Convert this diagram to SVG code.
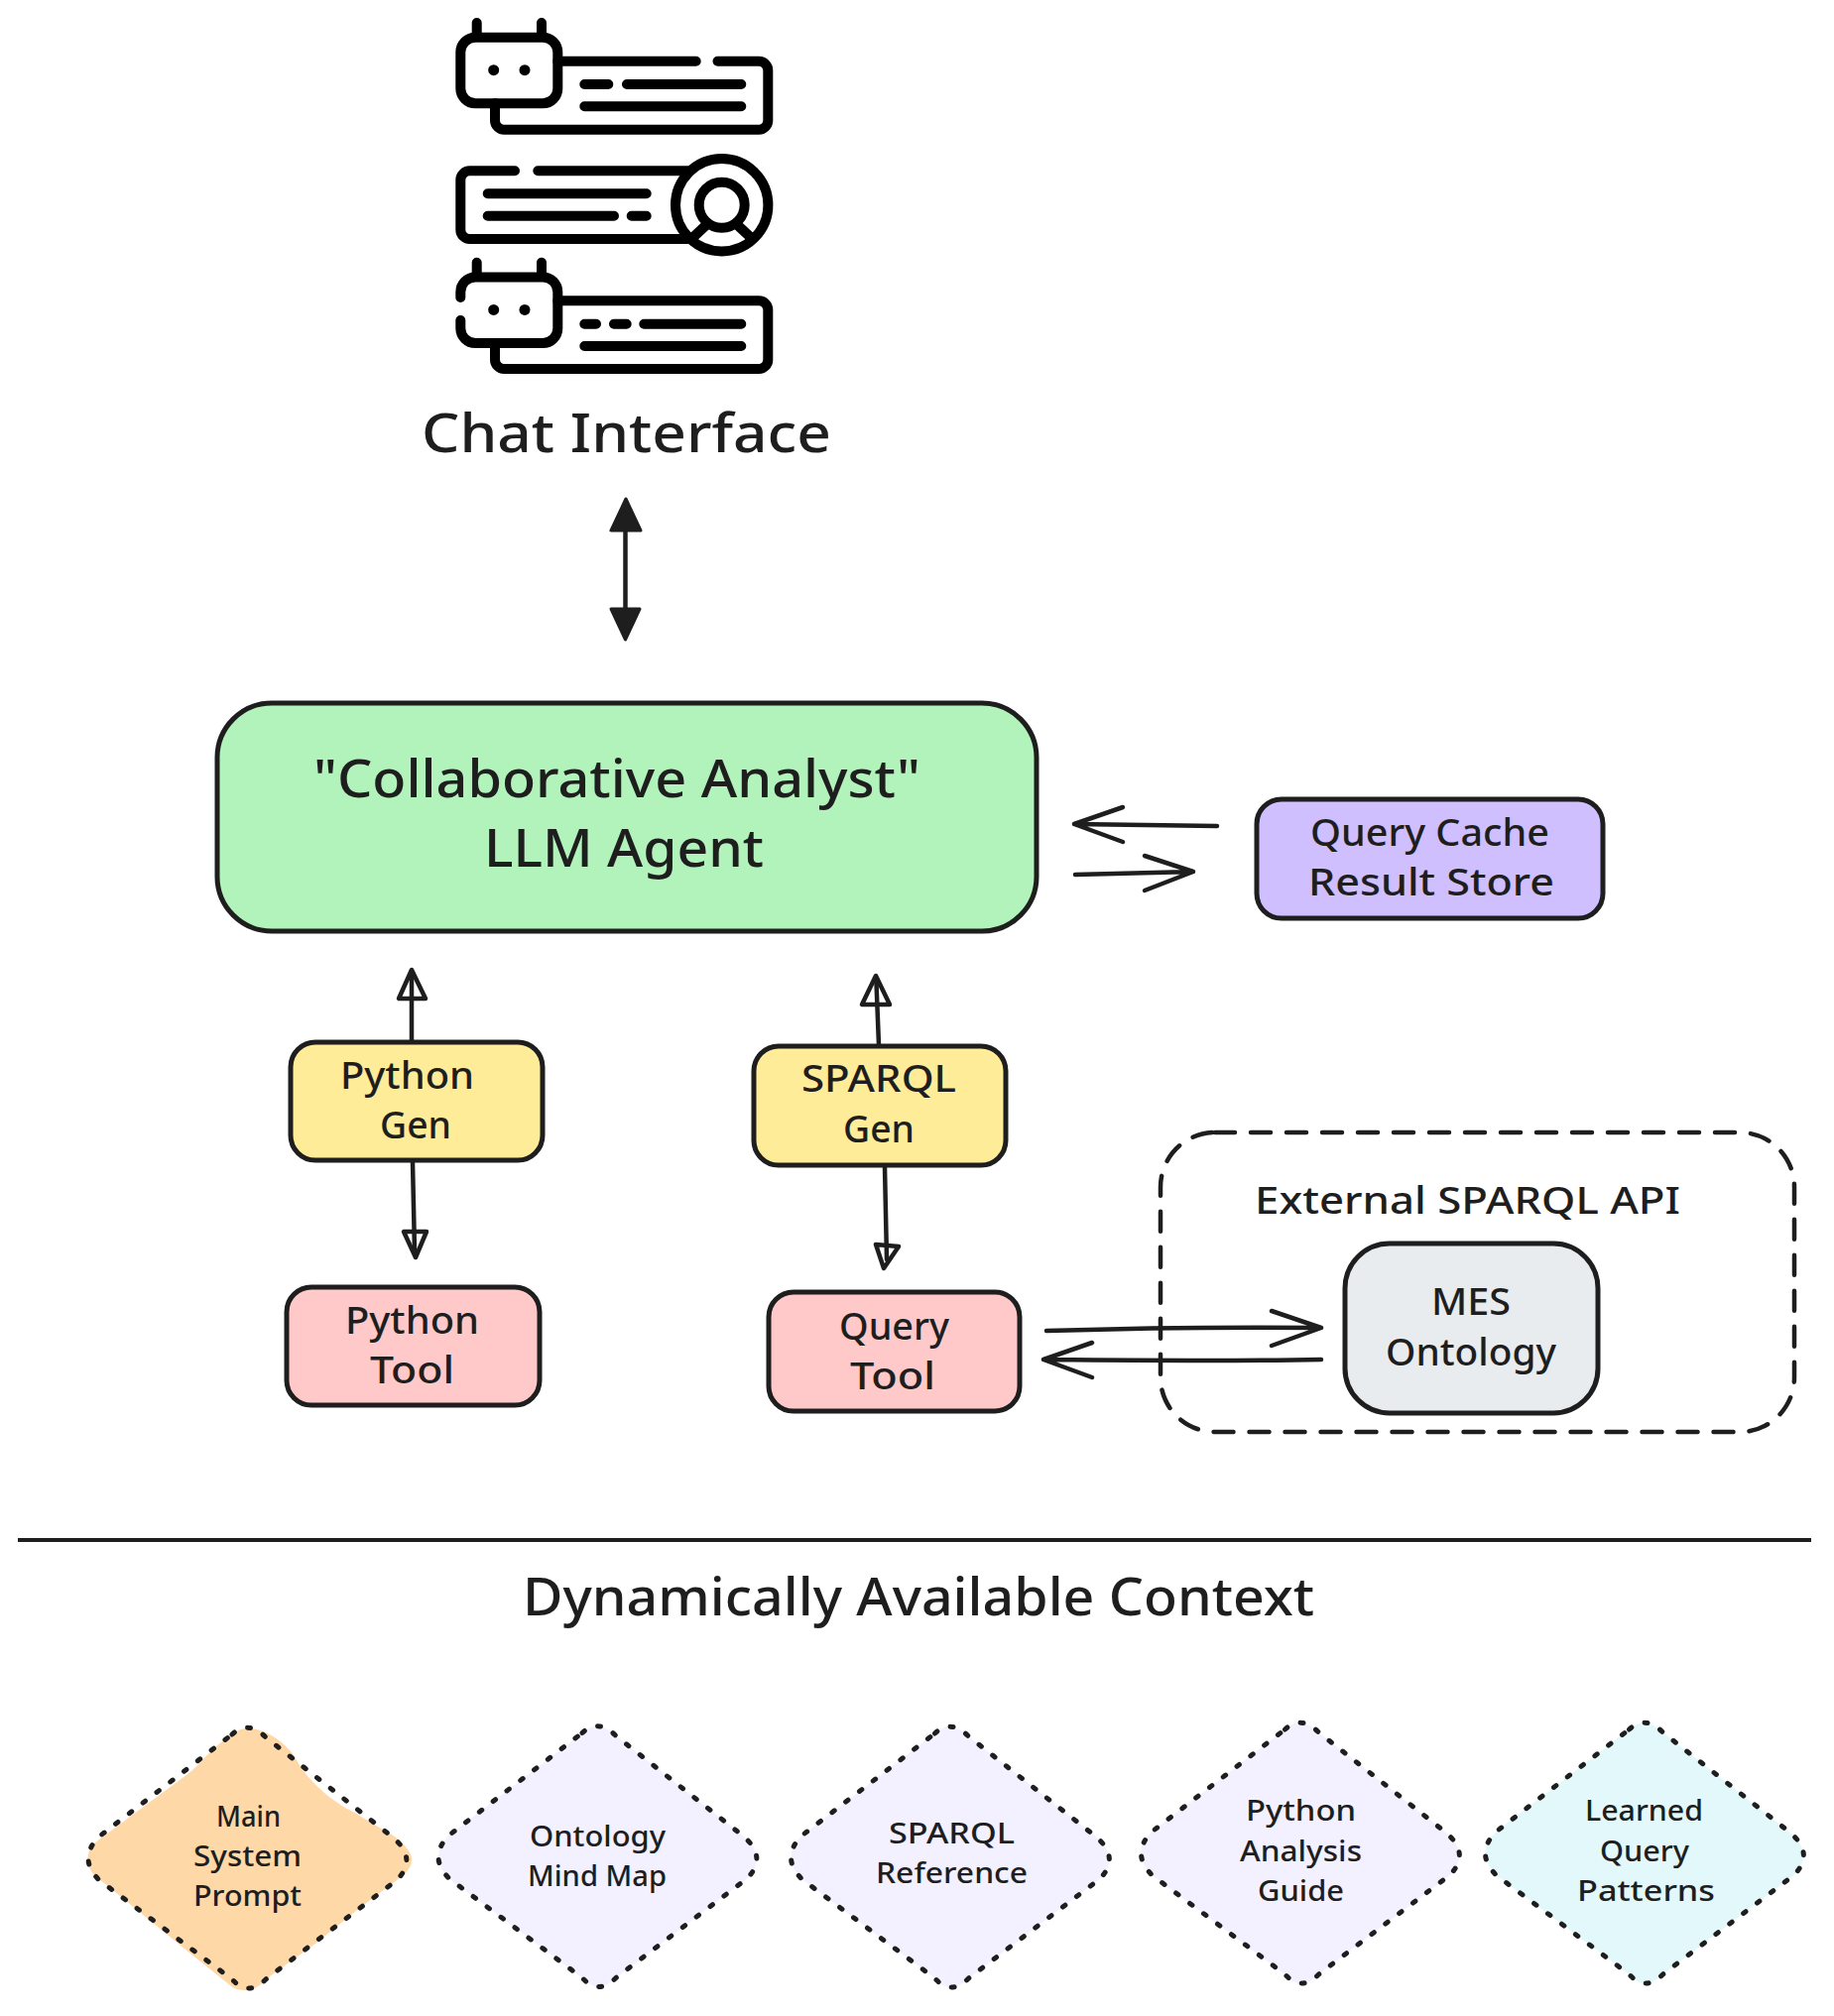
<svg xmlns="http://www.w3.org/2000/svg" width="1849" height="2033" viewBox="0 0 1849 2033">
<style>
text{font-family:"Noto Sans","Open Sans",sans-serif;font-weight:500;fill:#1e1e1e;letter-spacing:0}
.t56{font-size:55px}.t52{font-size:52px}.t38{font-size:38px}.t29{font-size:29px}
.box{stroke:#1e1e1e;stroke-width:5}
.ic{fill:none;stroke:#000;stroke-width:10;stroke-linecap:round;stroke-linejoin:round}
.ln{fill:none;stroke:#1e1e1e;stroke-width:4.5;stroke-linecap:round;stroke-linejoin:round}
.hd{fill:#fff;stroke:#1e1e1e;stroke-width:4.5;stroke-linejoin:round}
.hf{fill:#1e1e1e;stroke:#1e1e1e;stroke-width:3;stroke-linejoin:round}
.dot{fill:none;stroke:#1e1e1e;stroke-width:5;stroke-linecap:round;stroke-dasharray:3 14.4}
.lav{fill:#f3f0ff}.cyan{fill:#e3f8fa}
</style>
<defs>
  <path id="dia" d="M-16-125Q0-140 18-122L145-22Q172 0 150 22L18 122Q0 140-16 122L-150 22Q-172 0-150-22Z"/>
</defs>
<rect width="1849" height="2033" fill="#fff"/>

<g id="chat-interface">
  <g class="ic">
    <rect x="464.300" y="37.700" width="98" height="66.600" rx="15"/>
    <path d="M480.700 23V37M546 23V37"/>
    <path d="M562.300 61.700H701.700M723.500 61.700H765a9.300 9.300 0 0 1 9.300 9.300V121.400a9.300 9.300 0 0 1-9.300 9.300H508.300a9.300 9.300 0 0 1-9.300-9.300V104.300"/>
    <path d="M589.300 85H613.300M632 85H747.300M589.300 107.300H747.300"/>

    <path d="M542.300 172.300H695M519 172.300H473.600a9.300 9.300 0 0 0-9.300 9.300V231.700a9.300 9.300 0 0 0 9.300 9.300H693"/>
    <path d="M491.700 195.300H651.700M491.700 217.700H619M636.700 217.700H651.700"/>
    <circle cx="727.700" cy="206.700" r="46.700"/>
    <circle cx="727.700" cy="206.700" r="23"/>
    <path d="M698 240L712 227M757.500 240L743.500 227" stroke-linecap="butt"/>

    <path d="M464.300 300V294.400a15 15 0 0 1 15-15H547.300a15 15 0 0 1 15 15V331a15 15 0 0 1-15 15H479.300a15 15 0 0 1-15-15V323"/>
    <path d="M480.700 264.700V279M546 264.700V279"/>
    <path d="M562.300 303.300H765a9.300 9.300 0 0 1 9.300 9.300V362.700a9.300 9.300 0 0 1-9.300 9.300H508.300a9.300 9.300 0 0 1-9.300-9.300V346"/>
    <path d="M589.300 326.700H601M619 326.700H631.700M649.300 326.700H747.300M589.300 349H747.300"/>
  </g>
  <g fill="#000">
    <circle cx="497.700" cy="70.700" r="5.500"/><circle cx="529" cy="70.700" r="5.500"/>
    <circle cx="497.700" cy="312.400" r="5.500"/><circle cx="529" cy="312.400" r="5.500"/>
  </g>
  <text class="t56" x="425" y="456" textLength="413" lengthAdjust="spacingAndGlyphs">Chat Interface</text>
</g>

<g id="connectors">
  <path class="ln" d="M630.500 530V620"/>
  <path class="hf" d="M631 503L616 535L646 535Z"/>
  <path class="hf" d="M630.500 645L616 614L645 614Z"/>

  <path class="ln" d="M1227 833L1083 831M1132 814L1083 831L1132 849"/>
  <path class="ln" d="M1084 882L1203 879M1154 863L1203 879L1154 898"/>

  <path class="hd" d="M415 978L402 1007L429 1007Z"/>
  <path class="ln" d="M415 1050V985"/>
  <path class="hd" d="M419 1268L407 1242L430 1242Z"/>
  <path class="ln" d="M416 1172L418 1262"/>

  <path class="hd" d="M883 984L869 1013L897 1013Z"/>
  <path class="ln" d="M886 1054L883.500 991"/>
  <path class="hd" d="M891 1279L883 1255L906 1257Z"/>
  <path class="ln" d="M892 1177L894 1270"/>

  <path class="ln" d="M1055 1342C1150 1339 1240 1338 1332 1339M1282 1322L1332 1339L1282 1357"/>
  <path class="ln" d="M1332 1371C1240 1373 1150 1372 1052 1371M1101 1354L1052 1371L1101 1389"/>
</g>

<g id="collaborative-analyst">
  <rect class="box" x="219" y="709" width="826" height="230" rx="55" fill="#b2f2bb"/>
  <text class="t52" x="316" y="804" textLength="612" lengthAdjust="spacingAndGlyphs">"Collaborative Analyst"</text>
  <text class="t52" x="488" y="874" textLength="282" lengthAdjust="spacingAndGlyphs">LLM Agent</text>
</g>

<g id="query-cache">
  <rect class="box" x="1267" y="806" width="349" height="120" rx="25" fill="#d0bfff"/>
  <text class="t38" x="1321" y="853" textLength="241" lengthAdjust="spacingAndGlyphs">Query Cache</text>
  <text class="t38" x="1319" y="903" textLength="248" lengthAdjust="spacingAndGlyphs">Result Store</text>
</g>

<g id="python-gen">
  <rect class="box" x="293" y="1051" width="254" height="119" rx="25" fill="#ffec99"/>
  <text class="t38" x="343" y="1098" textLength="135" lengthAdjust="spacingAndGlyphs">Python</text>
  <text class="t38" x="383" y="1148" textLength="72" lengthAdjust="spacingAndGlyphs">Gen</text>
</g>
<g id="sparql-gen">
  <rect class="box" x="760" y="1055" width="254" height="120" rx="25" fill="#ffec99"/>
  <text class="t38" x="808" y="1101" textLength="156" lengthAdjust="spacingAndGlyphs">SPARQL</text>
  <text class="t38" x="850" y="1152" textLength="72" lengthAdjust="spacingAndGlyphs">Gen</text>
</g>
<g id="python-tool">
  <rect class="box" x="289" y="1298" width="255" height="119" rx="25" fill="#ffc9c9"/>
  <text class="t38" x="348" y="1345" textLength="135" lengthAdjust="spacingAndGlyphs">Python</text>
  <text class="t38" x="373" y="1395" textLength="85" lengthAdjust="spacingAndGlyphs">Tool</text>
</g>
<g id="query-tool">
  <rect class="box" x="775" y="1303" width="253" height="120" rx="25" fill="#ffc9c9"/>
  <text class="t38" x="846" y="1351" textLength="111" lengthAdjust="spacingAndGlyphs">Query</text>
  <text class="t38" x="857" y="1401" textLength="86" lengthAdjust="spacingAndGlyphs">Tool</text>
</g>

<g id="external-sparql-api">
  <rect x="1170" y="1142" width="639" height="302" rx="55" fill="none" stroke="#1e1e1e" stroke-width="4.500" stroke-linecap="round" stroke-dasharray="20 16"/>
  <text class="t38" x="1265" y="1224" textLength="429" lengthAdjust="spacingAndGlyphs">External SPARQL API</text>
</g>
<g id="mes-ontology">
  <rect class="box" x="1356" y="1254" width="255" height="171" rx="45" fill="#e9ecef"/>
  <text class="t38" x="1443" y="1326" textLength="80" lengthAdjust="spacingAndGlyphs">MES</text>
  <text class="t38" x="1397" y="1377" textLength="172" lengthAdjust="spacingAndGlyphs">Ontology</text>
</g>

<g id="divider">
  <path d="M18 1553H1826" stroke="#1e1e1e" stroke-width="4" fill="none"/>
  <text class="t52" x="527" y="1629" textLength="798" lengthAdjust="spacingAndGlyphs">Dynamically Available Context</text>
</g>

<g id="main-system-prompt">
  <path d="M249 1743C268 1743 288 1757 298 1773C306 1790 330 1815 358 1828C375 1840 395 1848 404 1857C413 1866 416 1872 415 1877C414 1884 410 1888 404 1893L364 1923L318 1960L272 1993C262 2003 255 2007 249 2007C240 2007 235 2005 232 2002L192 1970L94 1890C88 1882 88 1875 89 1870C90 1864 94 1860 100 1855L192 1787C205 1775 215 1762 226 1755C235 1747 242 1743 249 1743Z" fill="#ffd8a8"/>
  <use href="#dia" class="dot" x="250" y="1874"/>
  <text class="t29" x="218" y="1842" textLength="65" lengthAdjust="spacingAndGlyphs">Main</text>
  <text class="t29" x="195" y="1882" textLength="109" lengthAdjust="spacingAndGlyphs">System</text>
  <text class="t29" x="195" y="1922" textLength="109" lengthAdjust="spacingAndGlyphs">Prompt</text>
</g>
<g id="ontology-mind-map">
  <use href="#dia" class="lav" x="603" y="1872.500"/>
  <use href="#dia" class="dot" x="603" y="1872.500"/>
  <text class="t29" x="534" y="1862" textLength="137" lengthAdjust="spacingAndGlyphs">Ontology</text>
  <text class="t29" x="532" y="1902" textLength="140" lengthAdjust="spacingAndGlyphs">Mind Map</text>
</g>
<g id="sparql-reference">
  <use href="#dia" class="lav" x="958.500" y="1873"/>
  <use href="#dia" class="dot" x="958.500" y="1873"/>
  <text class="t29" x="896" y="1859" textLength="127" lengthAdjust="spacingAndGlyphs">SPARQL</text>
  <text class="t29" x="883" y="1899" textLength="153" lengthAdjust="spacingAndGlyphs">Reference</text>
</g>
<g id="python-analysis-guide">
  <use href="#dia" class="lav" x="1311.500" y="1869"/>
  <use href="#dia" class="dot" x="1311.500" y="1869"/>
  <text class="t29" x="1256" y="1836" textLength="111" lengthAdjust="spacingAndGlyphs">Python</text>
  <text class="t29" x="1250" y="1877" textLength="123" lengthAdjust="spacingAndGlyphs">Analysis</text>
  <text class="t29" x="1268" y="1917" textLength="87" lengthAdjust="spacingAndGlyphs">Guide</text>
</g>
<g id="learned-query-patterns">
  <use href="#dia" class="cyan" x="1658.500" y="1869"/>
  <use href="#dia" class="dot" x="1658.500" y="1869"/>
  <text class="t29" x="1598" y="1836" textLength="119" lengthAdjust="spacingAndGlyphs">Learned</text>
  <text class="t29" x="1613" y="1877" textLength="90" lengthAdjust="spacingAndGlyphs">Query</text>
  <text class="t29" x="1590" y="1917" textLength="139" lengthAdjust="spacingAndGlyphs">Patterns</text>
</g>
</svg>
